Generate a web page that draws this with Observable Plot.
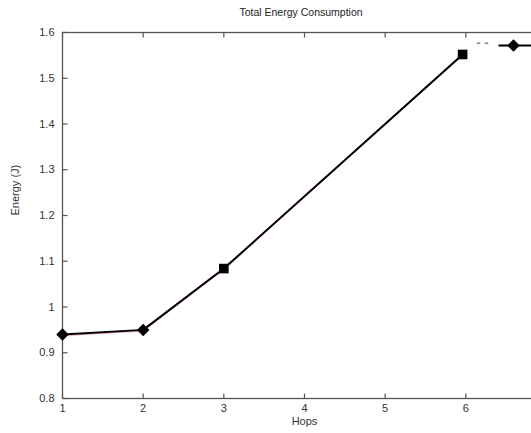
<!DOCTYPE html>
<html>
<head>
<meta charset="utf-8">
<script src="https://cdn.jsdelivr.net/npm/d3@7"></script>
<script src="https://cdn.jsdelivr.net/npm/@observablehq/plot@0.6"></script>
<style>
  html, body { margin: 0; padding: 0; background: #fff; }
  body { width: 531px; height: 433px; overflow: hidden; position: relative; font-family: "Liberation Sans", Arial, sans-serif; }
  #title { width: 602px; height: 24px; line-height: 24px; text-align: center; font-size: 10.5px; color: #222; }
  #chart { width: 560px; }
  #chart svg { display: block; max-width: none !important; width: 560px !important; height: 409px !important; }
</style>
</head>
<body>
<div id="title">Total Energy Consumption</div>
<div id="chart"></div>
<script>
// Data
const hops = [1, 2, 3, 5.96];
const energy = [0.940, 0.950, 1.084, 1.552];
const markers = ["diamond", "diamond", "square", "square"];

const xTicks = [1, 2, 3, 4, 5, 6];
const yTicks = [0.8, 0.9, 1, 1.1, 1.2, 1.3, 1.4, 1.5, 1.6];
const xDomain = [1, 7];
const yDomain = [0.8, 1.6];
const xLabel = "Hops";
const yLabel = "Energy (J)";
const legendText = "- -";

const data = hops.map((h, i) => ({hops: h, energy: energy[i], marker: markers[i]}));

// custom symbols
const diamondSym = { draw(ctx, size) { const h = Math.sqrt(size / Math.PI) * 1.25; ctx.moveTo(0, -h); ctx.lineTo(h, 0); ctx.lineTo(0, h); ctx.lineTo(-h, 0); ctx.closePath(); } };
const squareSym = { draw(ctx, size) { const h = Math.sqrt(size / Math.PI); ctx.rect(-h, -h, 2 * h, 2 * h); } };
const tickRight = { draw(ctx) { ctx.moveTo(0, 0); ctx.lineTo(5, 0); } };
const tickUp = { draw(ctx) { ctx.moveTo(0, 0); ctx.lineTo(0, -5); } };
const tickDown = { draw(ctx) { ctx.moveTo(0, 0); ctx.lineTo(0, 5); } };
const legendLine = { draw(ctx) { ctx.moveTo(-15, 0); ctx.lineTo(40, 0); } };

const axisColor = "#555";

const chart = Plot.plot({
  width: 560,
  height: 409,
  marginLeft: 62,
  marginRight: 14,
  marginTop: 8,
  marginBottom: 35,
  style: { fontFamily: "Liberation Sans, Arial, sans-serif", fontSize: "11px", color: "#333", background: "white", maxWidth: "none" },
  x: { domain: xDomain, ticks: xTicks, tickSize: 0, tickPadding: 6, tickFormat: d => String(d), label: null },
  y: { domain: yDomain, ticks: yTicks, tickSize: 0, tickPadding: 8, tickFormat: d => String(d), label: null },
  marks: [
    Plot.frame({ stroke: axisColor, strokeWidth: 1.3 }),
    Plot.dot(yTicks, { y: d => d, frameAnchor: "left", symbol: tickRight, stroke: axisColor, strokeWidth: 1.2, r: 5 }),
    Plot.dot(xTicks, { x: d => d, frameAnchor: "bottom", symbol: tickUp, stroke: axisColor, strokeWidth: 1.2, r: 5 }),
    Plot.dot(xTicks, { x: d => d, frameAnchor: "top", symbol: tickDown, stroke: axisColor, strokeWidth: 1.2, r: 5 }),
    Plot.line(data, { x: "hops", y: "energy", stroke: "#e05050", strokeWidth: 1, strokeOpacity: 0.6, dy: 1.2 }),
    Plot.line(data, { x: "hops", y: "energy", stroke: "#000", strokeWidth: 2 }),
    Plot.dot(data.filter(d => d.marker === "diamond"), { x: "hops", y: "energy", symbol: diamondSym, fill: "#000", r: 5 }),
    Plot.dot(data.filter(d => d.marker === "square"), { x: "hops", y: "energy", symbol: squareSym, fill: "#000", r: 4.8 }),
    Plot.text([yLabel], { text: d => d, frameAnchor: "left", rotate: -90, dx: -47, fontSize: 11, fill: "#333" }),
    Plot.text([xLabel], { text: d => d, frameAnchor: "bottom", dy: 26, fontSize: 11, fill: "#333" }),
    // legend (partially cut off at the right edge)
    Plot.text([legendText], { text: d => d, frameAnchor: "top-right", dx: -58, dy: 5, fontSize: 13, fill: "#7585a5", fontWeight: "bold" }),
    Plot.dot([legendText], { frameAnchor: "top-right", dx: -33, dy: 13, symbol: legendLine, stroke: "#000", strokeWidth: 2, r: 5 }),
    Plot.dot([legendText], { frameAnchor: "top-right", dx: -33, dy: 13, symbol: diamondSym, fill: "#000", r: 5 })
  ]
});
document.getElementById("chart").appendChild(chart);
</script>
</body>
</html>
